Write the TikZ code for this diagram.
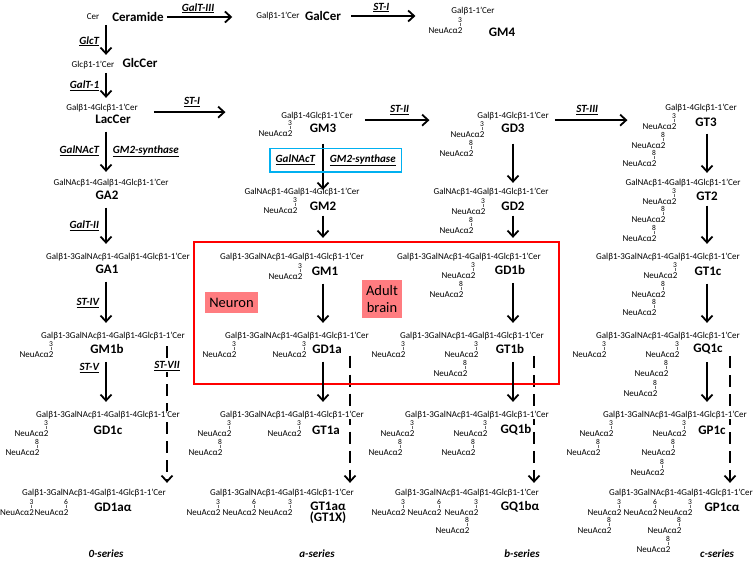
\documentclass[tikz,border=0pt]{standalone}
\usepackage{fontspec}
\setmainfont{Carlito}
\usetikzlibrary{arrows.meta,fit,backgrounds}
\definecolor{enzblue}{HTML}{00B0F0}
\definecolor{boxred}{HTML}{FF0000}
\definecolor{tagpink}{HTML}{FF7C80}
\newcommand{\chainlac}{Galβ1-4Glcβ1-1’Cer}
\newcommand{\chainga}{GalNAcβ1-4Galβ1-4Glcβ1-1’Cer}
\newcommand{\chainfull}{Galβ1-3GalNAcβ1-4Galβ1-4Glcβ1-1’Cer}
% sialic acid: name, x, y of linkage number, linkage
\newcommand{\sia}[4]{%
  \node[linkno] (#1l) at (#2,#3) {#4};
  \draw[linktick] ([yshift=-0.6pt]#1l.south) -- ++(0,3);
  \node[sugar] (#1) at (#2-14.5,#3+10.5) {NeuAcα2};
}
\tikzset{
  sugar/.style={font=\fontsize{9}{10}\selectfont, inner sep=0pt, fill=white},
  gname/.style={font=\bfseries\fontsize{13}{14}\selectfont, inner sep=0pt},
  linkno/.style={font=\fontsize{7.5}{8}\selectfont, inner sep=0pt},
  linktick/.style={line width=0.4pt, draw=black!60},
  enz/.style={font=\bfseries\itshape\fontsize{11}{12}\selectfont, inner sep=0pt},
  flow/.style={-{Straight Barb[length=6pt,width=11pt]}, line width=1.8pt, shorten <=8pt, shorten >=9pt},
  dflow/.style={flow, dash pattern=on 12pt off 7pt, shorten <=2pt, shorten >=6pt},
  tagbox/.style={fill=tagpink, font=\fontsize{14.5}{17.5}\selectfont, inner sep=0pt, align=center},
  redbox/.style={draw=boxred, line width=1.8pt},
  serieslabel/.style={font=\bfseries\itshape\fontsize{11}{12}\selectfont, inner sep=0pt}
}

\begin{document}
\begin{tikzpicture}[x=1pt, y=-1pt]
\useasboundingbox (0,0) rectangle (754,561);

% column axes
\coordinate (col0) at (106,0);
\coordinate (cola) at (323,0);
\coordinate (colb) at (513,0);
\coordinate (colc) at (707,0);
\coordinate (dash0) at (167,0);
\coordinate (dasha) at (350,0);
\coordinate (dashb) at (534,0);
\coordinate (dashc) at (730,0);

% Ceramide / galacto branch
\node[sugar] (cer) at (93,17) {Cer};
\node[gname] (ceramide) at (138,17) {Ceramide};
\node[sugar] (galcerchain) at (278,16) {Galβ1-1’Cer};
\node[gname] (galcer) at (323,16) {GalCer};
\node[sugar] (gm4chain) at (473,11) {Galβ1-1’Cer};
\sia{gm4s}{460}{20}{3}
\node[gname] (gm4) at (502,32) {GM4};

% 0-series
\node[sugar] (glcchain) at (93,65) {Glcβ1-1’Cer};
\node[gname] (glccer) at (140,63) {GlcCer};
\node[sugar] (lacchain) at (102,108) {\chainlac};
\node[gname] (laccer) at (113,119) {LacCer};
\node[sugar] (ga2chain) at (111,183) {\chainga};
\node[gname] (ga2) at (107,195) {GA2};
\node[sugar] (ga1chain) at (118,257) {\chainfull};
\node[gname] (ga1) at (107,269) {GA1};
\node[sugar] (gm1bchain) at (113,336) {\chainfull};
\sia{gm1bs}{51}{344}{3}
\node[gname] (gm1b) at (107,349) {GM1b};
\node[sugar] (gd1cchain) at (108,415) {\chainfull};
\sia{gd1cs}{46}{423}{3}
\sia{gd1css}{37}{442}{8}
\node[gname] (gd1c) at (108,430) {GD1c};
\node[sugar] (gd1aachain) at (94,493) {\chainfull};
\sia{gd1aas}{31.5}{502}{3}
\sia{gd1aat}{66}{502}{6}
\node[gname] (gd1aa) at (113,507) {GD1aα};
\node[serieslabel] (series0) at (106,554) {0-series};

% a-series
\node[sugar] (gm3chain) at (317,116) {\chainlac};
\sia{gm3s}{290}{123}{3}
\node[gname] (gm3) at (323,128) {GM3};
\node[sugar] (gm2chain) at (302,192) {\chainga};
\sia{gm2s}{295}{200}{3}
\node[gname] (gm2) at (323,206) {GM2};
\node[sugar] (gm1chain) at (292,257) {\chainfull};
\sia{gm1s}{300}{266}{3}
\node[gname] (gm1) at (325,271) {GM1};
\node[sugar] (gd1achain) at (297,336) {\chainfull};
\sia{gd1as}{234}{344}{3}
\sia{gd1at}{304}{344}{3}
\node[gname] (gd1a) at (327,349) {GD1a};
\node[sugar] (gt1achain) at (292,415) {\chainfull};
\sia{gt1as}{229}{423}{3}
\sia{gt1ass}{220}{442}{8}
\sia{gt1at}{299}{423}{3}
\node[gname] (gt1a) at (326,430) {GT1a};
\node[sugar] (gt1aachain) at (282,493) {\chainfull};
\sia{gt1aas}{218}{502}{3}
\sia{gt1aat}{254}{502}{6}
\sia{gt1aau}{290}{502}{3}
\node[gname, align=center, font=\bfseries\fontsize{13}{11.5}\selectfont] (gt1aa) at (328,512.5) {GT1aα\\(GT1X)};
\node[serieslabel] (seriesa) at (317,554) {a-series};

% b-series
\node[sugar] (gd3chain) at (513,116) {\chainlac};
\sia{gd3s}{482}{124}{3}
\sia{gd3ss}{471}{143}{8}
\node[gname] (gd3) at (513,128) {GD3};
\node[sugar] (gd2chain) at (491,192) {\chainga};
\sia{gd2s}{483}{201}{3}
\sia{gd2ss}{471}{220}{8}
\node[gname] (gd2) at (513,206) {GD2};
\node[sugar] (gd1bchain) at (469,257) {\chainfull};
\sia{gd1bs}{473}{265}{3}
\sia{gd1bss}{461}{284}{8}
\node[gname] (gd1b) at (510,270) {GD1b};
\node[sugar] (gt1bchain) at (472,336) {\chainfull};
\sia{gt1bs}{403}{344}{3}
\sia{gt1bt}{476}{344}{3}
\sia{gt1btt}{465}{363}{8}
\node[gname] (gt1b) at (510,349) {GT1b};
\node[sugar] (gq1bchain) at (477,415) {\chainfull};
\sia{gq1bs}{412}{423}{3}
\sia{gq1bss}{400}{442}{8}
\sia{gq1bt}{485}{423}{3}
\sia{gq1btt}{473}{442}{8}
\node[gname] (gq1b) at (516,430) {GQ1b};
\node[sugar] (gq1bachain) at (467,493) {\chainfull};
\sia{gq1bas}{403}{502}{3}
\sia{gq1bat}{439}{502}{6}
\sia{gq1bau}{476}{502}{3}
\sia{gq1bauu}{467}{520}{8}
\node[gname] (gq1ba) at (520,507) {GQ1bα};
\node[serieslabel] (seriesb) at (522,554) {b-series};

% c-series
\node[sugar] (gt3chain) at (701,108) {\chainlac};
\sia{gt3s}{674}{116}{3}
\sia{gt3ss}{663}{135}{8}
\sia{gt3sss}{654}{153}{8}
\node[gname] (gt3) at (706,122) {GT3};
\node[sugar] (gt2chain) at (683,183) {\chainga};
\sia{gt2s}{674}{191}{3}
\sia{gt2ss}{663}{209}{8}
\sia{gt2sss}{654}{228}{8}
\node[gname] (gt2) at (707,196) {GT2};
\node[sugar] (gt1cchain) at (668,257) {\chainfull};
\sia{gt1cs}{675}{265}{3}
\sia{gt1css}{663}{284}{8}
\sia{gt1csss}{654}{302}{8}
\node[gname] (gt1c) at (708,271) {GT1c};
\node[sugar] (gq1cchain) at (668,336) {\chainfull};
\sia{gq1cs}{604}{344}{3}
\sia{gq1ct}{677}{344}{3}
\sia{gq1ctt}{666}{363}{8}
\sia{gq1cttt}{655}{383}{8}
\node[gname] (gq1c) at (708,349) {GQ1c};
\node[sugar] (gp1cchain) at (675,415) {\chainfull};
\sia{gp1cs}{611}{423}{3}
\sia{gp1css}{598}{442}{8}
\sia{gp1ct}{684}{423}{3}
\sia{gp1ctt}{673}{442}{8}
\sia{gp1cttt}{662}{462}{8}
\node[gname] (gp1c) at (712,430) {GP1c};
\node[sugar] (gp1cachain) at (681,493) {\chainfull};
\sia{gp1cas}{619}{502}{3}
\sia{gp1cass}{609}{520}{8}
\sia{gp1cat}{655}{502}{6}
\sia{gp1cau}{690}{502}{3}
\sia{gp1cauu}{679}{520}{8}
\sia{gp1cauuu}{668}{539}{8}
\node[gname] (gp1ca) at (722,507) {GP1cα};
\node[serieslabel] (seriesc) at (717,554) {c-series};

% expression regions
\draw[redbox] (194,242) rectangle (559,384);
\node[tagbox, minimum width=53pt, minimum height=21pt] (neuron) at (231.5,302.5) {Neuron};
\node[tagbox, minimum width=40pt, minimum height=38pt] (adultbrain) at (382,299) {Adult\\brain};

% horizontal steps
\draw[flow, shorten <=3pt, shorten >=24pt] (ceramide.east) -- node[enz, above=3pt, pos=0.37] (galt3) {\underline{GalT-III}} (ceramide.east -| galcerchain.west);
\draw[flow, shorten <=10pt, shorten >=13pt] (galcer.east) -- node[enz, above=3pt, pos=0.46] (st1top) {\underline{ST-I}} (galcer.east -| gm4s.west);
\draw[flow, shorten <=16pt, shorten >=33pt] (lacchain.south east) -- node[enz, above=4.5pt, pos=0.45] (st1) {\underline{ST-I}} (lacchain.south east -| gm3s.west);
\draw[flow, shorten <=12pt, shorten >=21pt] (gm3chain.south east) -- node[enz, above=4.5pt, pos=0.48] (st2) {\underline{ST-II}} (gm3chain.south east -| gd3s.west);
\draw[flow, shorten <=6pt, shorten >=15pt] (gd3chain.south east) -- node[enz, above=4.5pt, pos=0.41] (st3) {\underline{ST-III}} (gd3chain.south east -| gt3s.west);

% 0-series steps
\draw[flow, shorten <=3pt, shorten >=6pt] (col0 |- ceramide.south) -- node[enz, left=6pt] (glct) {\underline{GlcT}} (col0 |- glcchain.north);
\draw[flow, shorten <=5pt, shorten >=6pt] (col0 |- glccer.south) -- node[enz, left=6pt] (galt1) {\underline{GalT-1}} (col0 |- lacchain.north);
\draw[flow, shorten >=7pt] (col0 |- laccer.south) -- node[enz, left=6pt] (galnact) {\underline{GalNAcT}} node[enz, right=6pt] (gm2syn) {\underline{GM2-synthase}} (col0 |- ga2chain.north);
\draw[flow] (col0 |- ga2.south) -- node[enz, left=6pt] (galt2) {\underline{GalT-II}} (col0 |- ga1chain.north);
\draw[flow] (col0 |- ga1.south) -- node[enz, left=6pt] (st4) {\underline{ST-IV}} (col0 |- gm1bchain.north);
\draw[flow] (col0 |- gm1b.south) -- node[enz, left=6pt, pos=0.25] (st5) {\underline{ST-V}} (col0 |- gd1cchain.north);

% a-series steps
\draw[flow, shorten <=11pt, shorten >=-2pt] (cola |- gm3.south) -- node[enz, left=7pt] (galnacta) {\underline{GalNAcT}} node[enz, right=6pt] (gm2syna) {\underline{GM2-synthase}} (cola |- gm2chain.north);
\node[draw=enzblue, line width=1.8pt, fit=(galnacta)(gm2syna), inner sep=5pt] (enzbox) {};
\draw[flow, shorten <=5pt, shorten >=15pt] (cola |- gm2.south) -- (cola |- gm1chain.north);
\draw[flow] (cola |- gm1.south) -- (cola |- gd1achain.north);
\draw[flow] (cola |- gd1a.south) -- (cola |- gt1achain.north);

% b-series steps
\draw[flow, shorten <=11pt, shorten >=5pt] (colb |- gd3.south) -- (colb |- gd2chain.north);
\draw[flow, shorten <=5pt, shorten >=15pt] (colb |- gd2.south) -- (colb |- gd1bchain.north);
\draw[flow] (colb |- gd1b.south) -- (colb |- gt1bchain.north);
\draw[flow] (colb |- gt1b.south) -- (colb |- gq1bchain.north);

% c-series steps
\draw[flow, shorten <=7pt, shorten >=6pt] (colc |- gt3.south) -- (colc |- gt2chain.north);
\draw[flow, shorten <=5pt] (colc |- gt2.south) -- (colc |- gt1cchain.north);
\draw[flow] (colc |- gt1c.south) -- (colc |- gq1cchain.north);
\draw[flow] (colc |- gq1c.south) -- (colc |- gp1cchain.north);

% alpha-series (dashed) steps
\begin{pgfonlayer}{background}
  \draw[dflow] (dash0 |- gm1b.north) -- node[enz, fill=white, inner sep=1pt, pos=0.15] (st7) {\underline{ST-VII}} (dash0 |- gd1aachain.north);
  \draw[dflow] (dasha |- gd1a.south) -- (dasha |- gt1aachain.north);
  \draw[dflow] (dashb |- gt1b.south) -- (dashb |- gq1bachain.north);
  \draw[dflow] (dashc |- gq1c.south) -- (dashc |- gp1cachain.north);
\end{pgfonlayer}

\end{tikzpicture}
\end{document}
